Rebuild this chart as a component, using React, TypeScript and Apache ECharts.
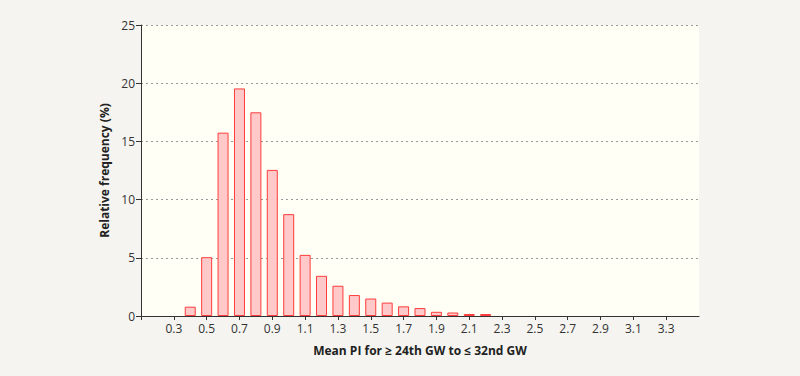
import React, { useEffect, useRef } from "react";
import * as echarts from "echarts";

const binCenters = [0.4, 0.5, 0.6, 0.7, 0.8, 0.9, 1.0, 1.1, 1.2, 1.3, 1.4, 1.5, 1.6, 1.7, 1.8, 1.9, 2.0, 2.1, 2.2];
const frequencies = [0.8, 5.05, 15.75, 19.55, 17.5, 12.55, 8.75, 5.25, 3.45, 2.6, 1.8, 1.5, 1.15, 0.83, 0.68, 0.36, 0.3, 0.17, 0.17];
const xTickValues = [0.1, 0.3, 0.5, 0.7, 0.9, 1.1, 1.3, 1.5, 1.7, 1.9, 2.1, 2.3, 2.5, 2.7, 2.9, 3.1, 3.3];
const xLabelValues = [0.3, 0.5, 0.7, 0.9, 1.1, 1.3, 1.5, 1.7, 1.9, 2.1, 2.3, 2.5, 2.7, 2.9, 3.1, 3.3];
const xRange = [0.1, 3.5];
const yRange = [0, 25];
const yStep = 5;
const xAxisTitle = "Mean PI for \u2265 24th GW to \u2264 32nd GW";
const yAxisTitle = "Relative frequency (%)";

export default function App() {
  const ref = useRef<HTMLDivElement>(null);
  useEffect(() => {
    if (!ref.current) return;
    const chart = echarts.init(ref.current, undefined, { renderer: "svg" });
    const font = "'Open Sans', 'Noto Sans', sans-serif";
    chart.setOption({
      animation: false,
      backgroundColor: "#f5f4f0",
      textStyle: { fontFamily: font },
      grid: {
        left: 141,
        right: 101,
        top: 25,
        bottom: 60,
        show: true,
        backgroundColor: "#fffff5",
        borderWidth: 0,
      },
      xAxis: {
        type: "value",
        min: xRange[0],
        max: xRange[1],
        interval: 0.2,
        name: xAxisTitle,
        nameLocation: "middle",
        nameGap: 28,
        nameTextStyle: { color: "#222", fontSize: 12, fontWeight: "bold", fontFamily: font },
        axisLine: { show: true, onZero: false, lineStyle: { color: "#333", width: 1 } },
        axisTick: { show: true, length: 4, lineStyle: { color: "#333" }, customValues: xTickValues },
        axisLabel: {
          color: "#333",
          fontSize: 12,
          margin: 6,
          fontFamily: font,
          customValues: xLabelValues,
          formatter: (v: number) => v.toFixed(1),
        },
        splitLine: { show: false },
      },
      yAxis: {
        type: "value",
        min: yRange[0],
        max: yRange[1],
        interval: yStep,
        name: yAxisTitle,
        nameLocation: "middle",
        nameGap: 25,
        nameTextStyle: { color: "#222", fontSize: 12, fontWeight: "bold", fontFamily: font },
        axisLine: { show: true, lineStyle: { color: "#333", width: 1 } },
        axisTick: { show: true, length: 5, lineStyle: { color: "#333" } },
        axisLabel: { color: "#333", fontSize: 12, margin: 6, fontFamily: font },
        splitLine: { show: true, lineStyle: { color: "#999", type: [2, 3], width: 1 } },
      },
      series: [
        {
          type: "bar",
          barWidth: 11,
          data: binCenters.map((x, i) => [x, frequencies[i]]),
          itemStyle: { color: "#ffc9c9", borderColor: "#ff3c3c", borderWidth: 1 },
        },
      ],
    });
    return () => chart.dispose();
  }, []);
  return <div ref={ref} style={{ position: "fixed", left: 0, top: 0, width: 800, height: 376 }} />;
}
